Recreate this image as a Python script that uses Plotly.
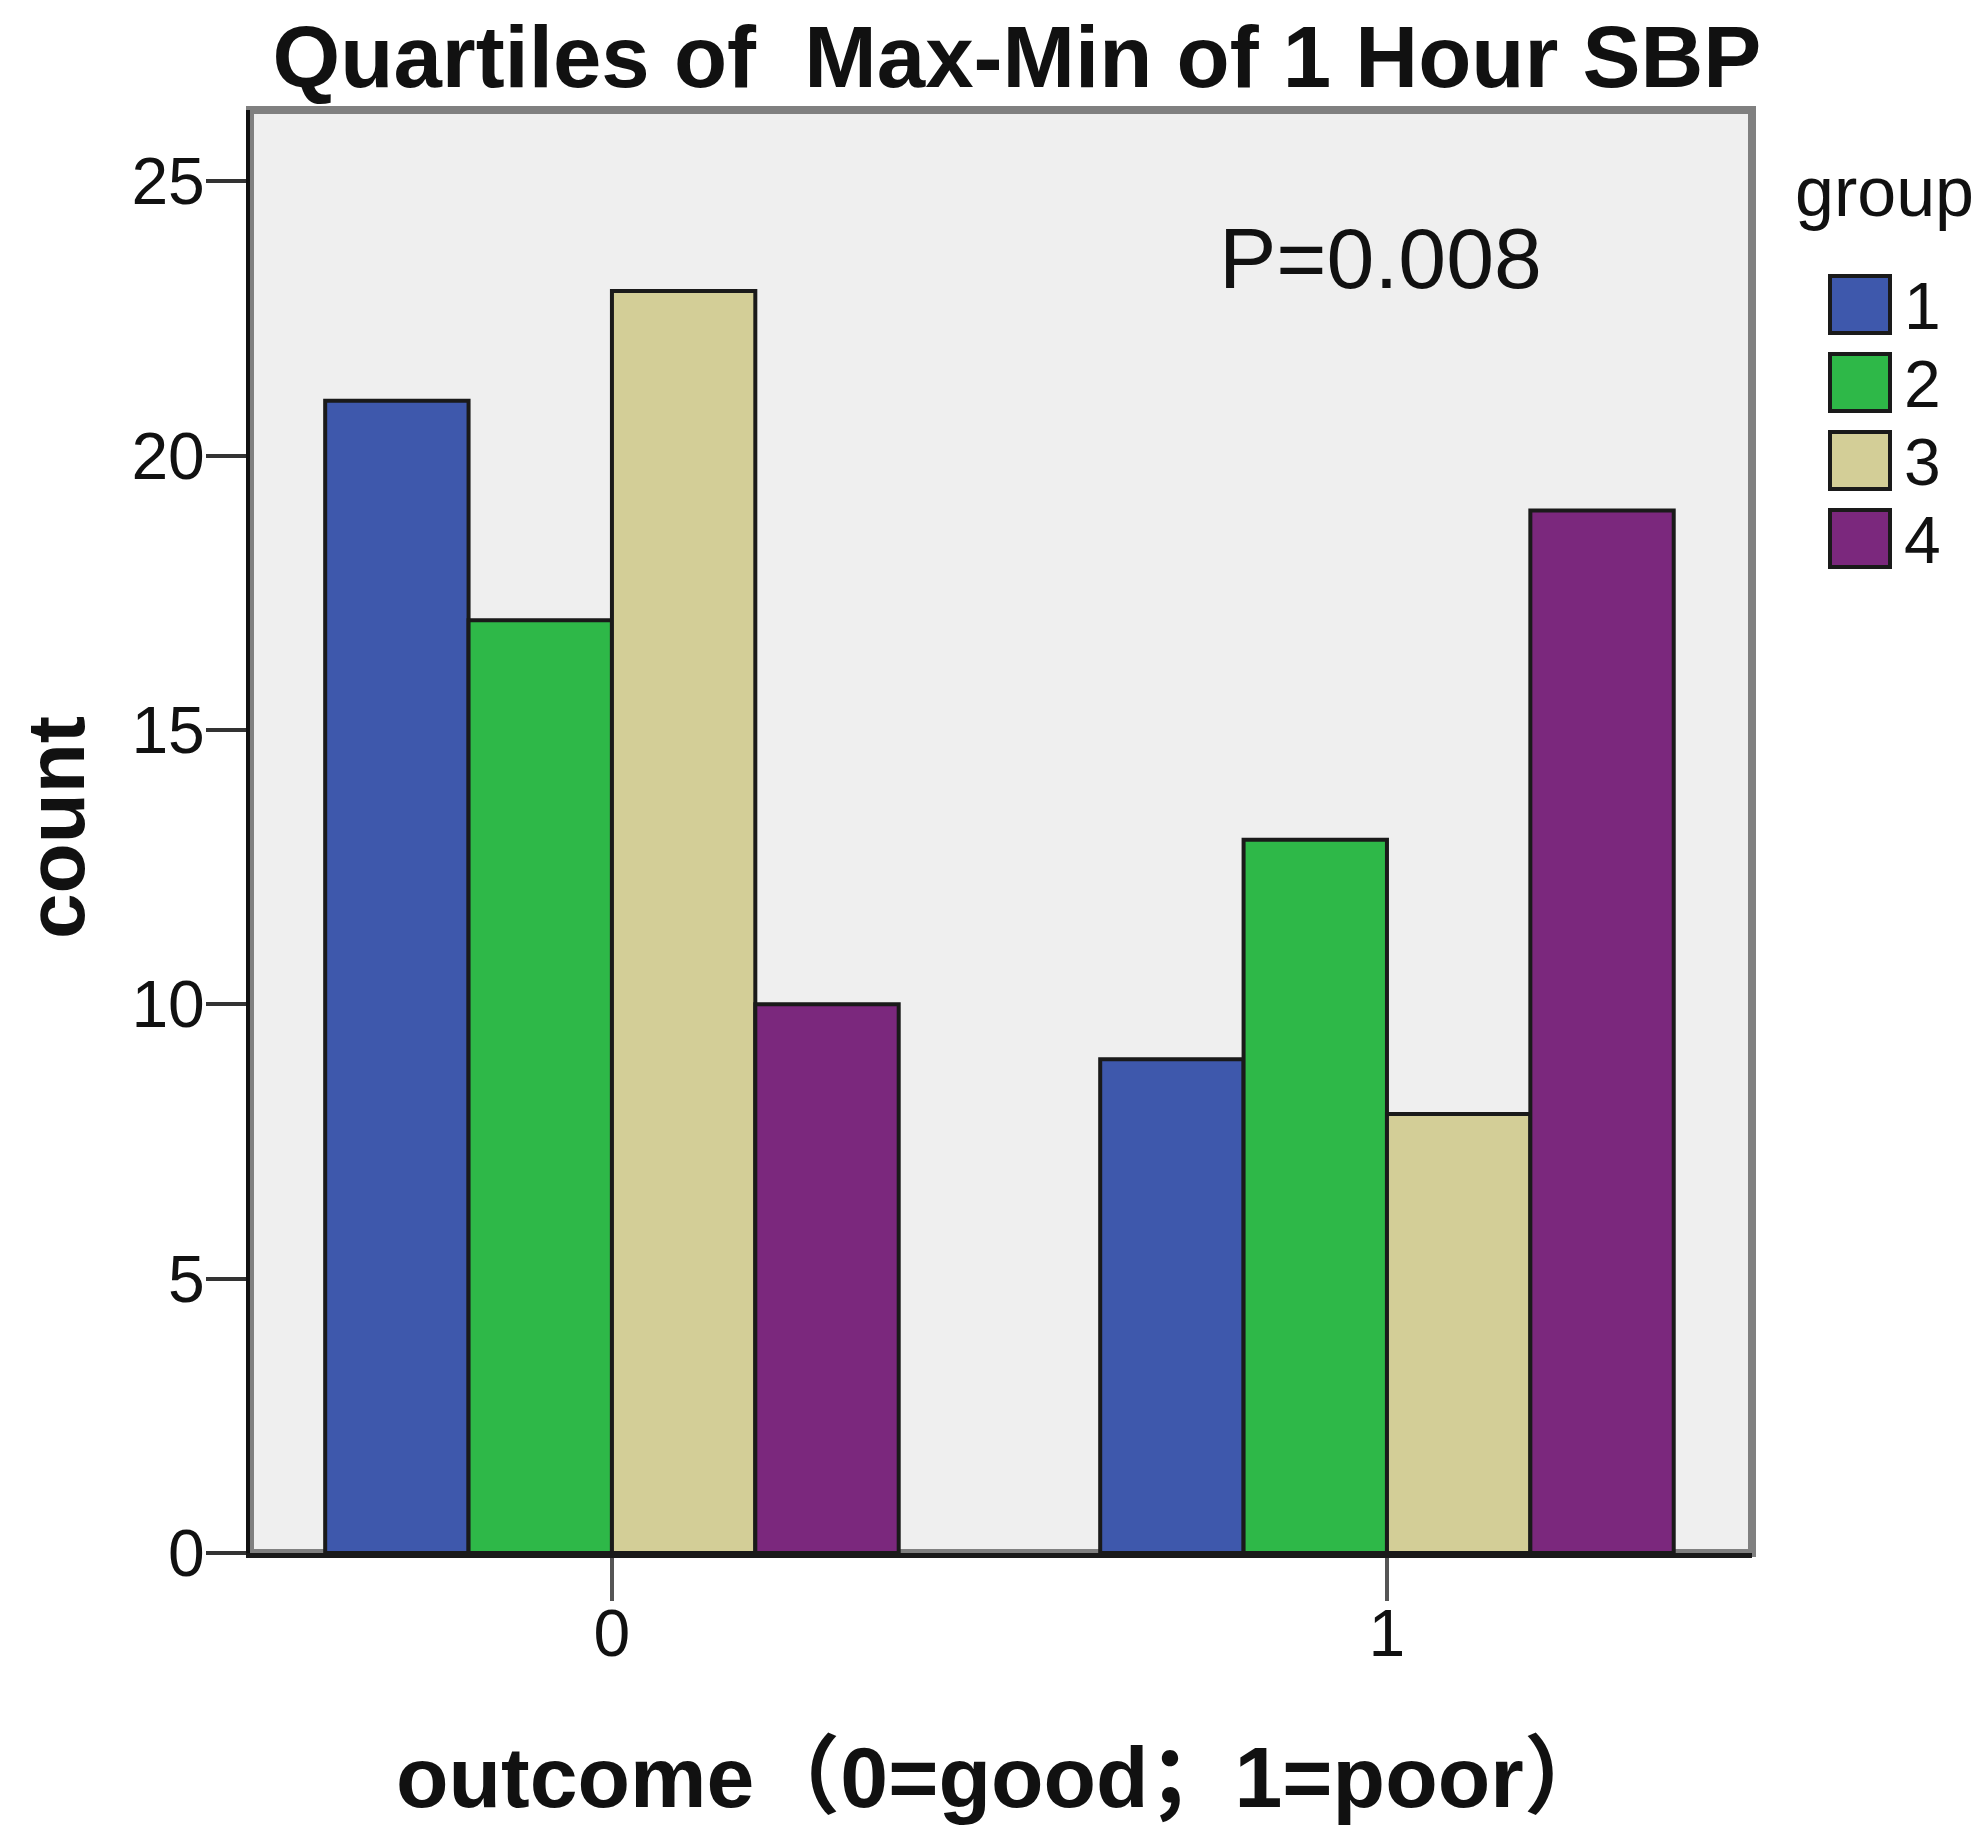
import plotly.graph_objects as go

# data
outcomes = ["0", "1"]
groups = ["1", "2", "3", "4"]
counts = {
    "1": [21, 9],
    "2": [17, 13],
    "3": [23, 8],
    "4": [10, 19],
}
colors = ["#3e58ac", "#2eb848", "#d3ce97", "#7b287d"]
y_ticks = [0, 5, 10, 15, 20, 25]

OFF = 8  # default body margin of the html page
W, H = 1983 - OFF, 1831 - OFF
L, R, T, B = 250 - OFF, 231, 110 - OFF, 278
FONT = "Liberation Sans, Arial, Noto Sans CJK SC, sans-serif"


# screen pixel -> paper helpers (for text/legend placement only)
def px(x):
    return (x - OFF - L) / (W - L - R)


def py(y):
    return (H - B - (y - OFF)) / (H - T - B)


fig = go.Figure()

for g, c in zip(groups, colors):
    fig.add_trace(go.Bar(
        x=outcomes, y=counts[g], name=g,
        marker=dict(color=c, line=dict(color="#1a1a1a", width=4)),
        showlegend=False,
    ))

# frame (top/right gray)
fig.add_shape(type="rect", xref="paper", yref="paper", x0=0, x1=1, y0=0, y1=1,
              line=dict(color="#808080", width=8), layer="below")


def label(text, x, y, size, bold=False, **kw):
    fig.add_annotation(
        text=text, xref="paper", yref="paper", x=px(x), y=py(y),
        xanchor=kw.pop("xanchor", "center"), yanchor="middle",
        showarrow=False,
        font=dict(family=FONT, size=size, color="#111",
                  weight="bold" if bold else "normal"),
        **kw,
    )


label("P=0.008", 1380, 258, 86)

# axis titles
label("count", 55, 828, 82, bold=True, textangle=-90)
label("outcome（0=good；1=poor）", 1003, 1777, 86, bold=True)

# legend drawn by hand
label("group", 1884, 192, 70)
for i, (g, c) in enumerate(zip(groups, colors)):
    top = 276 + i * 78
    fig.add_shape(type="rect", xref="paper", yref="paper",
                  x0=px(1830), x1=px(1890), y0=py(top + 57), y1=py(top),
                  fillcolor=c, line=dict(color="#1a1a1a", width=4))
    label(g, 1902, top + 30, 66, xanchor="left")

fig.update_layout(
    width=W, height=H,
    margin=dict(l=L, r=R, t=T, b=B, autoexpand=False),
    barmode="group", bargap=0.26, bargroupgap=0,
    paper_bgcolor="white", plot_bgcolor="#efefef",
    title=dict(text="Quartiles of\u00a0\u00a0Max-Min of 1 Hour SBP",
               xref="container", x=(1017 - OFF) / W,
               xanchor="center", y=1 - (57 - OFF) / H, yanchor="middle",
               font=dict(family=FONT, size=87, color="#111", weight="bold")),
    xaxis=dict(
        type="category", range=[-0.467, 1.471], automargin=False,
        showline=True, linecolor="#1a1a1a", linewidth=5,
        ticks="outside", ticklen=43, tickwidth=4, tickcolor="#555",
        ticklabelstandoff=-24,
        tickfont=dict(family=FONT, size=66, color="#111"),
        showgrid=False, zeroline=False,
    ),
    yaxis=dict(
        range=[0, 26.3], tickvals=y_ticks, automargin=False,
        showline=True, linecolor="#111", linewidth=4,
        ticks="outside", ticklen=40, tickwidth=4, tickcolor="#333",
        ticklabelstandoff=-12,
        tickfont=dict(family=FONT, size=66, color="#111"),
        showgrid=False, zeroline=False,
    ),
)

fig.write_html("out.html")
